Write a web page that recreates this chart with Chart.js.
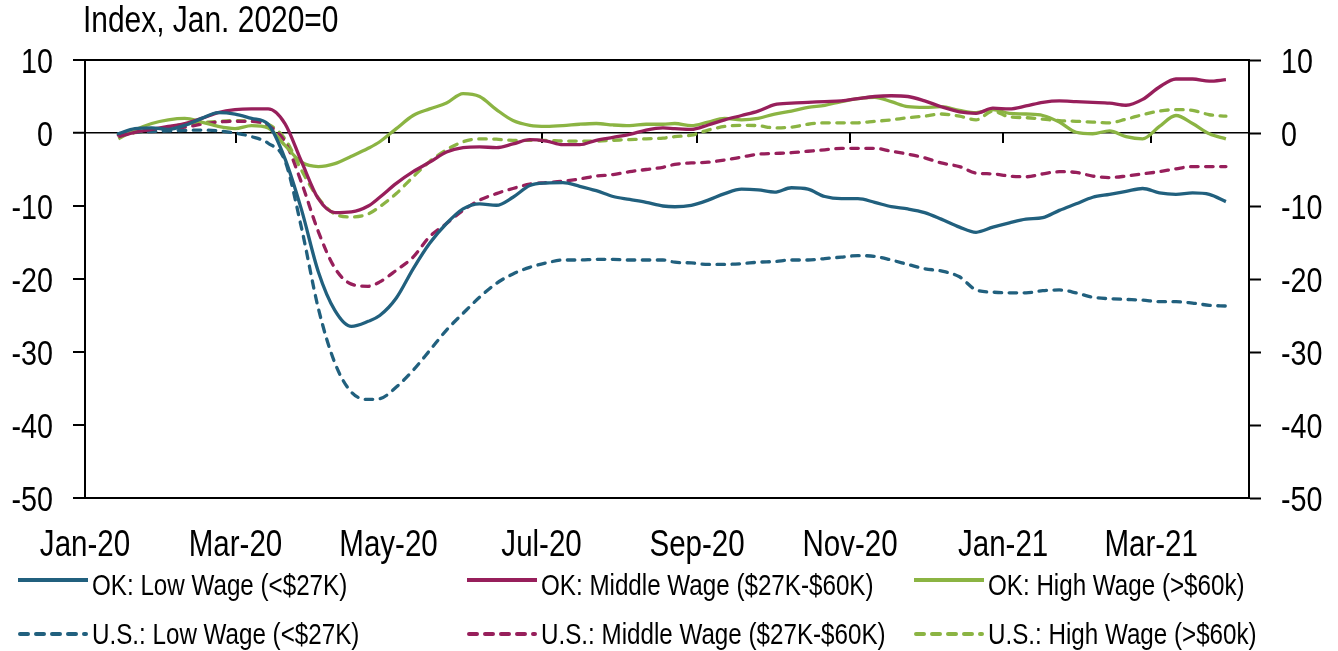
<!DOCTYPE html>
<html><head><meta charset="utf-8">
<script src="https://cdn.jsdelivr.net/npm/chart.js@4.4.1/dist/chart.umd.min.js"></script>
<style>
html,body{margin:0;padding:0;background:#fff;}
#wrap{position:relative;width:1338px;height:651px;overflow:hidden;font-family:"Liberation Sans",Arial,sans-serif;color:#000;}
canvas{position:absolute;left:0;top:0;}
.nt{position:absolute;line-height:1;white-space:nowrap;transform:scaleX(0.82);transform-origin:0 0;}
#title{left:83px;top:2px;font-size:36.5px;}
.leg{font-size:29.5px;}
svg.ls{position:absolute;overflow:visible;}
</style></head><body>
<div id="wrap"><canvas id="c" width="1338" height="651"></canvas>
<div id="title" class="nt">Index, Jan. 2020=0</div>
<div id="legend"></div>
</div>
<script>
// x values: days since Jan 1, 2020
const days = [13.3, 19.9, 26.6, 33.2, 39.8, 46.5, 53.1, 59.8, 66.4, 73.0, 79.7, 86.3, 93.0, 99.6, 106.2, 112.9,
  117.5, 124.1, 130.8, 137.4, 144.1, 150.7, 157.3, 164.0, 170.6, 177.3, 183.9, 190.5, 197.2, 203.8, 210.5, 217.1, 223.7, 230.4,
  235.1, 241.7, 248.4, 255.0, 261.7, 268.3, 274.9, 281.6, 288.2, 294.9, 301.5, 308.1, 314.8, 321.4, 328.0, 334.7, 341.3,
  348.6, 355.2, 361.9, 368.5, 375.1, 381.8, 388.4, 395.1, 401.7, 408.4, 415.0, 421.6, 428.3, 434.9, 441.5, 448.2, 454.8];

const okLow = [-0.1, 0.6, 0.7, 0.5, 1.05, 2.0, 2.8, 2.6, 2.0, 1.2, -3.5, -10.5, -19.0, -24.3, -26.5, -25.8,
  -25.0, -22.6, -18.6, -15.1, -12.4, -10.4, -9.7, -9.9, -8.8, -7.2, -6.85, -6.8, -7.3, -7.9, -8.7, -9.1, -9.5, -10.0,
  -10.1, -9.9, -9.2, -8.3, -7.7, -7.8, -8.1, -7.5, -7.7, -8.7, -9.0, -9.0, -9.5, -10.1, -10.4, -10.9, -11.8,
  -12.9, -13.6, -12.9, -12.3, -11.8, -11.6, -10.6, -9.7, -8.8, -8.4, -8.0, -7.6, -8.2, -8.4, -8.2, -8.4, -9.4];

const okMid = [-0.5, 0.1, 0.5, 0.9, 1.3, 2.0, 2.8, 3.2, 3.3, 3.3, 1.3, -3.9, -9.0, -10.9, -10.8, -10.0,
  -8.8, -6.9, -5.3, -4.0, -2.6, -2.0, -1.9, -2.0, -1.5, -0.9, -1.1, -1.6, -1.6, -1.0, -0.6, -0.2, 0.4, 0.7,
  0.6, 0.5, 1.1, 1.8, 2.4, 3.0, 3.9, 4.1, 4.2, 4.3, 4.4, 4.7, 5.0, 5.1, 5.0, 4.4, 3.6,
  2.9, 2.7, 3.4, 3.3, 3.7, 4.2, 4.4, 4.3, 4.2, 4.1, 3.8, 4.6, 6.3, 7.4, 7.4, 7.1, 7.3];

const okHigh = [-0.8, 0.4, 1.3, 1.8, 2.0, 1.5, 0.9, 0.6, 1.0, 0.7, -1.7, -4.0, -4.6, -4.2, -3.2, -2.1,
  -1.2, 0.6, 2.4, 3.3, 4.1, 5.4, 5.0, 3.2, 1.7, 1.05, 0.9, 1.0, 1.2, 1.3, 1.1, 1.0, 1.2, 1.2,
  1.3, 1.0, 1.5, 2.0, 1.8, 2.0, 2.6, 3.0, 3.5, 3.8, 4.3, 4.7, 4.9, 4.3, 3.6, 3.5, 3.6,
  3.1, 2.8, 3.2, 2.7, 2.6, 2.4, 1.5, 0.1, -0.1, 0.3, -0.5, -0.8, 0.9, 2.4, 1.3, -0.1, -0.8];

const usLow = [-0.1, 0.1, 0.2, 0.3, 0.35, 0.4, 0.3, 0.0, -0.5, -1.4, -3.8, -13.0, -24.0, -31.5, -35.5, -36.5,
  -36.4, -34.8, -32.5, -29.8, -27.0, -24.7, -22.5, -20.6, -19.3, -18.4, -17.8, -17.4, -17.4, -17.3, -17.3, -17.4, -17.4, -17.4,
  -17.7, -17.8, -18.0, -18.0, -17.9, -17.7, -17.6, -17.4, -17.4, -17.2, -17.0, -16.8, -16.9, -17.4, -18.0, -18.6, -18.9,
  -19.7, -21.5, -21.8, -21.9, -21.9, -21.6, -21.5, -21.9, -22.5, -22.7, -22.8, -22.9, -23.1, -23.1, -23.3, -23.6, -23.7];

const usMid = [-0.3, 0.1, 0.4, 0.6, 0.8, 1.2, 1.5, 1.6, 1.6, 1.0, -1.2, -6.8, -13.5, -18.5, -20.7, -21.0,
  -20.4, -18.8, -17.0, -14.2, -12.4, -10.6, -9.2, -8.3, -7.6, -7.0, -6.8, -6.6, -6.3, -5.9, -5.7, -5.3, -5.0, -4.7,
  -4.3, -4.1, -4.0, -3.7, -3.3, -2.9, -2.8, -2.7, -2.5, -2.3, -2.1, -2.1, -2.1, -2.5, -2.9, -3.4, -4.1,
  -4.6, -5.5, -5.6, -5.9, -6.0, -5.6, -5.3, -5.4, -5.9, -6.1, -5.9, -5.6, -5.3, -4.9, -4.6, -4.6, -4.6];

const usHigh = [-0.2, 0.05, 0.3, 0.8, 1.2, 1.4, 1.6, 1.7, 1.6, 1.2, -0.8, -5.1, -8.9, -11.1, -11.5, -11.1,
  -10.1, -8.3, -6.0, -3.9, -2.3, -1.2, -0.8, -0.85, -1.0, -1.0, -1.0, -1.1, -1.1, -1.1, -1.0, -0.9, -0.8, -0.7,
  -0.5, -0.3, 0.4, 0.9, 1.05, 1.0, 0.7, 0.8, 1.2, 1.4, 1.4, 1.4, 1.6, 1.8, 2.1, 2.3, 2.6,
  2.3, 1.8, 3.0, 2.2, 2.1, 1.9, 1.7, 1.6, 1.5, 1.4, 1.9, 2.5, 3.0, 3.2, 3.1, 2.5, 2.3];

const tickDays = [0, 60, 121, 182, 244, 305, 366, 425];
const tickLabels = ['Jan-20', 'Mar-20', 'May-20', 'Jul-20', 'Sep-20', 'Nov-20', 'Jan-21', 'Mar-21'];
const seriesNames = ['OK: Low Wage (<$27K)', 'OK: Middle Wage ($27K-$60K)', 'OK: High Wage (>$60k)',
  'U.S.: Low Wage (<$27K)', 'U.S.: Middle Wage ($27K-$60K)', 'U.S.: High Wage (>$60k)'];
const seriesValues = [okLow, okMid, okHigh, usLow, usMid, usHigh];

const BLUE = '#21607e', MAG = '#971f5b', GREEN = '#8bb443';
const colors = [BLUE, MAG, GREEN, BLUE, MAG, GREEN];
const dashed = [false, false, false, true, true, true];
const NARROW = 0.82;
const FONT = '"Liberation Sans", Arial, sans-serif';

Chart.defaults.font.family = FONT;
Chart.defaults.color = '#000';

const datasets = seriesValues.map((vals, i) => ({
  label: seriesNames[i],
  data: days.map((d, j) => ({x: d, y: vals[j]})),
  borderColor: colors[i],
  backgroundColor: colors[i],
  borderWidth: 3.3,
  borderDash: dashed[i] ? [7.5, 7.5] : [],
  borderCapStyle: dashed[i] ? 'round' : 'butt',
  pointRadius: 0,
  cubicInterpolationMode: 'monotone',
  fill: false
}));

const zeroTicks = {
  id: 'zeroTicks',
  beforeDatasetsDraw(chart) {
    const {ctx, scales} = chart;
    const y0 = scales.y.getPixelForValue(0);
    ctx.save();
    ctx.strokeStyle = '#000';
    ctx.lineWidth = 2;
    tickDays.forEach((d, i) => {
      if (i === 0) return;
      const px = Math.round(scales.x.getPixelForValue(d));
      ctx.beginPath();
      ctx.moveTo(px, y0);
      ctx.lineTo(px, y0 + 10);
      ctx.stroke();
    });
    ctx.restore();
  }
};

// Axis labels drawn in a narrow (horizontally condensed) face, positioned by the chart's scales
const narrowLabels = {
  id: 'narrowLabels',
  afterDraw(chart) {
    const {ctx, scales} = chart;
    const drawText = (txt, x, y, align, size) => {
      ctx.save();
      ctx.translate(x, y);
      ctx.scale(NARROW, 1);
      ctx.font = size + 'px ' + FONT;
      ctx.fillStyle = '#000';
      ctx.textAlign = align;
      ctx.textBaseline = 'alphabetic';
      ctx.fillText(txt, 0, 0);
      ctx.restore();
    };
    scales.y.ticks.forEach(t => {
      const py = scales.y.getPixelForValue(t.value);
      drawText(String(t.value), scales.y.right - 32, py + 12.5, 'right', 35);
    });
    scales.y2.ticks.forEach(t => {
      const py = scales.y2.getPixelForValue(t.value);
      drawText(String(t.value), scales.y2.left + 32, py + 12.5, 'left', 35);
    });
    tickDays.forEach((d, i) => drawText(tickLabels[i], scales.x.getPixelForValue(d), scales.x.top + 58, 'center', 36));
  }
};

const gridColor = (c) => ([10, 0, -50].includes(c.tick.value) ? '#000' : 'rgba(0,0,0,0)');
const gridWidth = (c) => (c.tick.value === 0 ? 1.5 : 2);

new Chart(document.getElementById('c'), {
  type: 'line',
  data: {datasets},
  options: {
    responsive: false,
    animation: false,
    devicePixelRatio: 1,
    layout: {padding: {top: 60, left: 0, right: 0, bottom: 0}},
    plugins: {legend: {display: false}, tooltip: {enabled: false}},
    scales: {
      x: {
        type: 'linear',
        min: 0, max: 464,
        afterBuildTicks: (s) => { s.ticks = tickDays.map(v => ({value: v})); },
        afterFit: (s) => { s.height = 651 - 498; },
        grid: {display: false, drawTicks: false},
        border: {display: false},
        ticks: {display: false, autoSkip: false}
      },
      y: {
        position: 'left',
        min: -50, max: 10,
        afterFit: (s) => { s.width = 85; },
        ticks: {stepSize: 10, display: false},
        grid: {color: gridColor, lineWidth: gridWidth, tickColor: '#000', tickWidth: 2, tickLength: 12, drawOnChartArea: true},
        border: {display: true, color: '#000', width: 2}
      },
      y2: {
        position: 'right',
        min: -50, max: 10,
        afterFit: (s) => { s.width = 1338 - 1249; },
        ticks: {stepSize: 10, display: false},
        grid: {drawOnChartArea: false, tickColor: '#000', tickWidth: 2, tickLength: 12},
        border: {display: true, color: '#000', width: 2}
      }
    }
  },
  plugins: [zeroTicks, narrowLabels]
});

// Legend (HTML)
const legend = document.getElementById('legend');
const colX = [18, 467, 914];
const rowTop = [570, 619];
const rowLine = [580, 634];
const svgNS = 'http://www.w3.org/2000/svg';
seriesNames.forEach((name, i) => {
  const col = i % 3, row = Math.floor(i / 3);
  const svg = document.createElementNS(svgNS, 'svg');
  svg.setAttribute('class', 'ls');
  svg.setAttribute('width', '72');
  svg.setAttribute('height', '8');
  svg.style.left = colX[col] + 'px';
  svg.style.top = (rowLine[row] - 4) + 'px';
  const ln = document.createElementNS(svgNS, 'line');
  ln.setAttribute('x1', dashed[i] ? 2 : 0);
  ln.setAttribute('x2', dashed[i] ? 68 : 70);
  ln.setAttribute('y1', 4); ln.setAttribute('y2', 4);
  ln.setAttribute('stroke', colors[i]);
  ln.setAttribute('stroke-width', '4');
  if (dashed[i]) { ln.setAttribute('stroke-dasharray', '8 8'); ln.setAttribute('stroke-linecap', 'round'); }
  svg.appendChild(ln);
  legend.appendChild(svg);
  const t = document.createElement('div');
  t.className = 'nt leg';
  t.textContent = name;
  t.style.left = (colX[col] + 74) + 'px';
  t.style.top = rowTop[row] + 'px';
  legend.appendChild(t);
});
</script>
</body></html>
